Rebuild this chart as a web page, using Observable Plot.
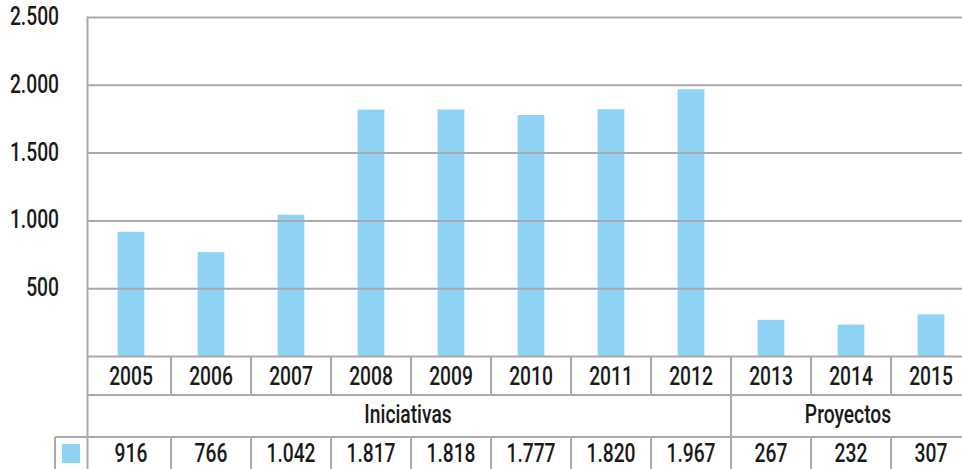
<!DOCTYPE html>
<html><head><meta charset="utf-8">
<script src="https://cdn.jsdelivr.net/npm/d3@7"></script>
<script src="https://cdn.jsdelivr.net/npm/@observablehq/plot@0.6"></script>
<style>
html,body{margin:0;padding:0;background:#fff;}
#chart svg{display:block;}
</style>
</head><body><div id="chart"></div>
<script>
// ---- data ----
const years = ["2005","2006","2007","2008","2009","2010","2011","2012","2013","2014","2015"];
const values = [916, 766, 1042, 1817, 1818, 1777, 1820, 1967, 267, 232, 307];
const groupNames = ["Iniciativas", "Proyectos"];
const groupFirst = ["2005", "2013"];
const groupLast = ["2012", "2015"];
const yTicks = [500, 1000, 1500, 2000, 2500];

// ---- setup ----
const loc = d3.formatLocale({decimal: ",", thousands: ".", grouping: [3], currency: ["", "€"]});
const fmt = loc.format(",d");
const data = years.map((year, i) => ({year, value: values[i]}));
const groups = groupNames.map((name, i) => ({name, first: groupFirst[i], last: groupLast[i]}));

const W = 962, H = 469;
const FONT = 'Roboto, "DejaVu Sans", sans-serif';
const INK = "#1a1a1a", LINE = "#a9a9a9", BAR = "#8ed3f4";
const FS = 25, SX = 0.77;

// table + y labels drawn with the plot's own x / y scales
const tableLayer = (index, scales, vals, dim) => {
  const x = scales.x, y = scales.y;
  const bw = x.bandwidth ? x.bandwidth() : 80;
  const y0 = y(0);
  const r1 = y0 + 39, r2 = r1 + 42, bottom = dim.height;
  const left = dim.marginLeft, legendLeft = left - 32;
  const g = d3.create("svg:g");
  const lines = g.append("g").attr("stroke", LINE).attr("stroke-width", 2).attr("fill", "none");
  const hl = (x1, x2, yy) => lines.append("line").attr("x1", x1).attr("x2", x2).attr("y1", yy).attr("y2", yy);
  const vl = (xx, y1, y2) => lines.append("line").attr("x1", xx).attr("x2", xx).attr("y1", y1).attr("y2", y2);
  hl(left, dim.width, r1);
  hl(legendLeft, dim.width, r2);
  vl(legendLeft, r2, bottom);
  years.slice(1).forEach(yr => {
    const xx = x(yr);
    vl(xx, y0, r1);
    vl(xx, r2, bottom);
  });
  groups.slice(1).forEach(gr => vl(x(gr.first), r1, r2));
  const txt = g.append("g").attr("fill", INK)
    .attr("font-family", FONT).attr("font-size", FS).attr("font-weight", 500)
    .attr("text-anchor", "middle").attr("dominant-baseline", "central");
  const put = (cx, cy, s, anchor) => txt.append("text")
    .attr("transform", `translate(${cx},${cy}) scale(${SX},1)`)
    .attr("text-anchor", anchor || "middle").text(s);
  years.forEach(yr => put(x(yr) + bw / 2, (y0 + r1) / 2 + 1, yr));
  groups.forEach(gr => put((x(gr.first) + x(gr.last) + bw) / 2 - 3, (r1 + r2) / 2 - 2, gr.name));
  data.forEach(d => put(x(d.year) + bw / 2, (r2 + bottom) / 2 + 0.5, fmt(d.value)));
  yTicks.forEach(t => put(left - 28, y(t) - 1, fmt(t), "end"));
  g.append("rect").attr("x", legendLeft + 7).attr("y", r2 + 7).attr("width", 18).attr("height", 19).attr("fill", BAR);
  return g.node();
};

const chart = Plot.plot({
  width: W,
  height: H,
  marginLeft: 87,
  marginRight: 0,
  marginTop: 17,
  marginBottom: 0,
  style: {fontFamily: FONT, background: "#fff", color: INK},
  x: {type: "band", domain: years, range: [88.85, 972.2], padding: 0, axis: null},
  y: {domain: [0, 2500], range: [356, 17], axis: null},
  marks: [
    Plot.barY(data, {x: "year", y: "value", fill: BAR, insetLeft: 26.6, insetRight: 26.6}),
    Plot.ruleY(yTicks, {stroke: LINE, strokeWidth: 2}),
    Plot.ruleY([0], {stroke: LINE, strokeWidth: 2}),
    Plot.frame({anchor: "left", stroke: LINE, strokeWidth: 2})
  ].concat([tableLayer])
});
document.getElementById("chart").appendChild(chart);
</script>
</body></html>
